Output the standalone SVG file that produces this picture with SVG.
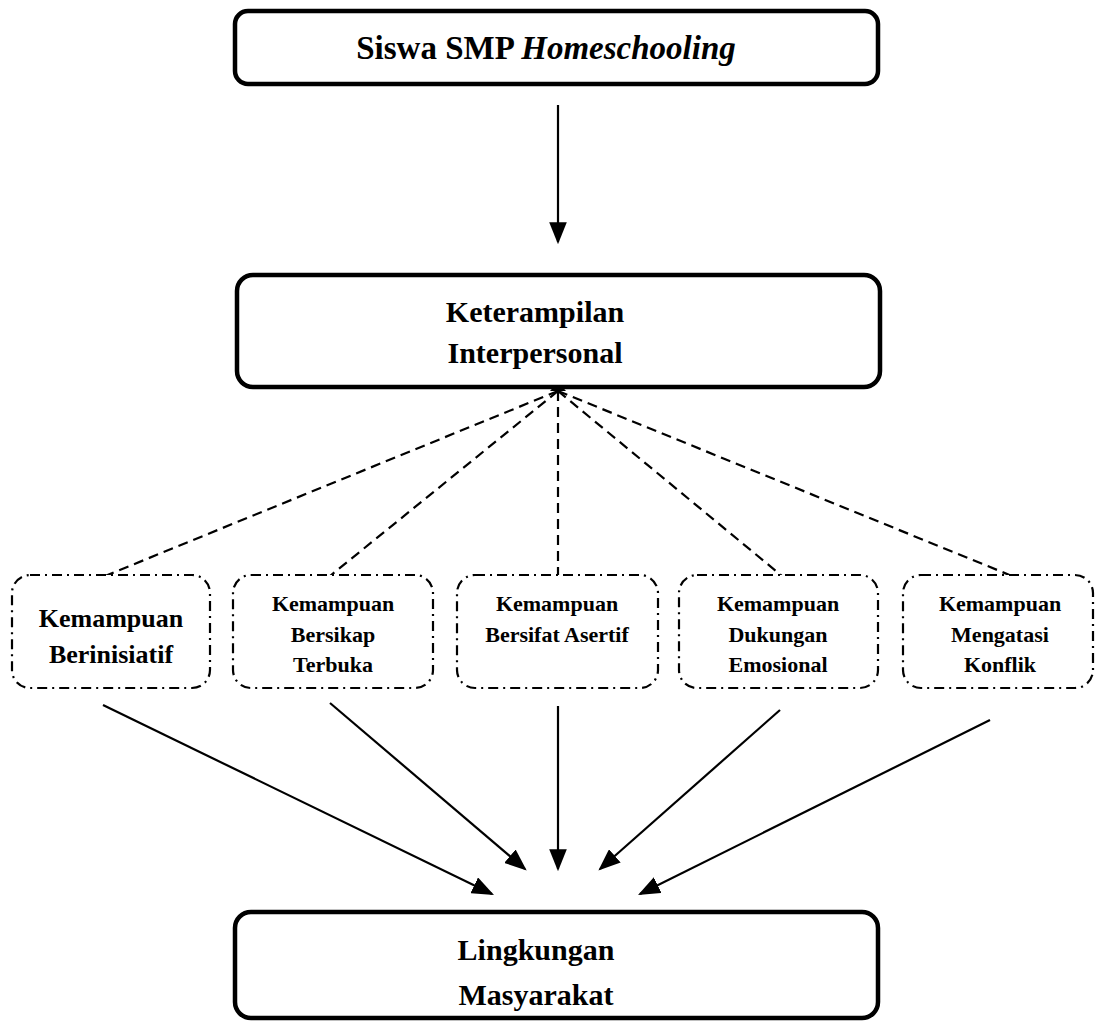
<svg xmlns="http://www.w3.org/2000/svg" width="1097" height="1024" viewBox="0 0 1097 1024">
<style>
.main{fill:#fff;stroke:#000;stroke-width:4.5}
.sub{fill:#fff;stroke:#000;stroke-width:2.2;stroke-dasharray:10 5 2 5}
.t{font-family:"Liberation Serif","Times New Roman",serif;font-weight:bold;fill:#000;text-anchor:middle}
.top{font-size:33px}
.big{font-size:30px}
.mid{font-size:26px}
.sm{font-size:22px}
.dash{stroke:#000;stroke-width:2.2;stroke-dasharray:10 6;fill:none}
.arr{stroke:#000;stroke-width:2.2;fill:none;marker-end:url(#ah)}
</style>
<defs>
<marker id="ah" markerWidth="10" markerHeight="8" refX="9" refY="4" orient="auto" markerUnits="strokeWidth">
<path d="M0,0 L10,4 L0,8 Z" fill="#000"/>
</marker>
</defs>
<g id="connectors">
<line class="arr" x1="558" y1="105" x2="558" y2="242"/>
<line class="dash" x1="558" y1="391" x2="105" y2="576"/>
<line class="dash" x1="558" y1="391" x2="330" y2="576"/>
<line class="dash" x1="558" y1="391" x2="558" y2="576"/>
<line class="dash" x1="558" y1="391" x2="782" y2="576"/>
<line class="dash" x1="558" y1="391" x2="1012" y2="576"/>
<path d="M550,391 L558,382 L566,391 Z" fill="#000"/>
<line class="arr" x1="103" y1="705" x2="492" y2="894"/>
<line class="arr" x1="330" y1="703" x2="525" y2="869"/>
<line class="arr" x1="558" y1="706" x2="558" y2="869"/>
<line class="arr" x1="780" y1="710" x2="600" y2="869"/>
<line class="arr" x1="990" y1="720" x2="640" y2="894"/>
</g>
<g id="node-siswa">
<rect class="main" x="235" y="11" width="643" height="73" rx="13"/>
<text class="t top" x="546" y="59"><tspan>Siswa SMP </tspan><tspan font-style="italic">Homeschooling</tspan></text>
</g>
<g id="node-keterampilan">
<rect class="main" x="237" y="275" width="643" height="112" rx="16"/>
<text class="t big" x="535" y="322">Keterampilan</text>
<text class="t big" x="535" y="363">Interpersonal</text>
</g>
<g id="node-berinisiatif">
<rect class="sub" x="12" y="575" width="198" height="113" rx="18"/>
<text class="t mid" x="111" y="627">Kemampuan</text>
<text class="t mid" x="111" y="663">Berinisiatif</text>
</g>
<g id="node-terbuka">
<rect class="sub" x="233" y="575" width="200" height="113" rx="18"/>
<text class="t sm" x="333" y="611">Kemampuan</text>
<text class="t sm" x="333" y="642">Bersikap</text>
<text class="t sm" x="333" y="672">Terbuka</text>
</g>
<g id="node-asertif">
<rect class="sub" x="457" y="575" width="201" height="113" rx="18"/>
<text class="t sm" x="557" y="611">Kemampuan</text>
<text class="t sm" x="557" y="642">Bersifat Asertif</text>
</g>
<g id="node-emosional">
<rect class="sub" x="679" y="575" width="199" height="113" rx="18"/>
<text class="t sm" x="778" y="611">Kemampuan</text>
<text class="t sm" x="778" y="642">Dukungan</text>
<text class="t sm" x="778" y="672">Emosional</text>
</g>
<g id="node-konflik">
<rect class="sub" x="903" y="575" width="190" height="113" rx="18"/>
<text class="t sm" x="1000" y="611">Kemampuan</text>
<text class="t sm" x="1000" y="642">Mengatasi</text>
<text class="t sm" x="1000" y="672">Konflik</text>
</g>
<g id="node-lingkungan">
<rect class="main" x="235" y="912" width="643" height="106" rx="16"/>
<text class="t big" x="536" y="960">Lingkungan</text>
<text class="t big" x="536" y="1005">Masyarakat</text>
</g>
</svg>
